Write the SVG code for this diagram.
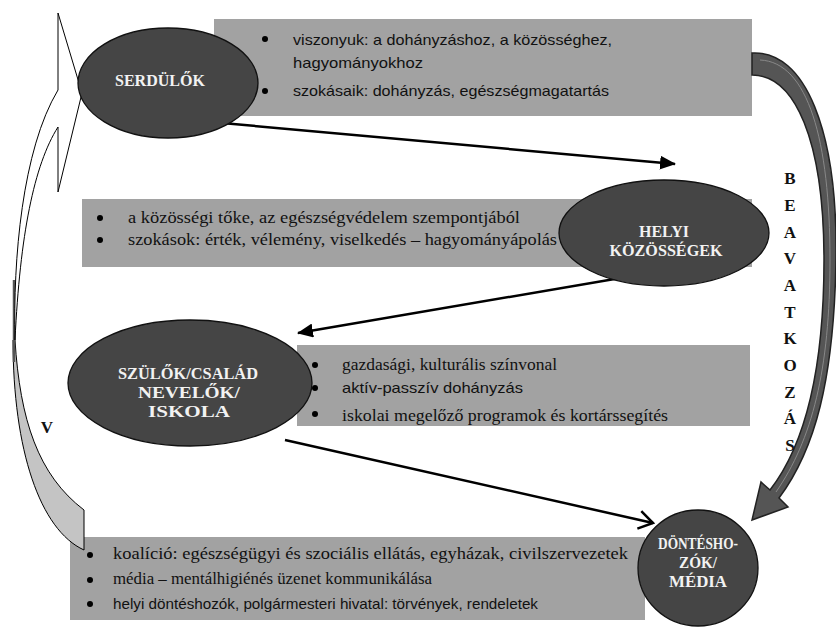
<svg xmlns="http://www.w3.org/2000/svg" width="836" height="629" viewBox="0 0 836 629">
<style>
.box{fill:#a2a2a2}
.node{fill:#454545;stroke:#111;stroke-width:1.3}
.lbl{font-family:'Liberation Serif','Times New Roman',serif;font-weight:bold;font-size:16px;fill:#f2f2f2;text-anchor:middle}
.sans{font-family:'Liberation Sans',Arial,sans-serif;font-size:15px;fill:#111}
.serif{font-family:'Liberation Serif','Times New Roman',serif;font-size:16px;fill:#111}
.vert{font-family:'Liberation Serif','Times New Roman',serif;font-weight:bold;font-size:17px;fill:#111;text-anchor:middle}
.conn{stroke:#000;stroke-width:2.5;fill:none}
</style>
<defs>
<marker id="tri" markerUnits="userSpaceOnUse" markerWidth="16" markerHeight="14" refX="15" refY="7" orient="auto">
<path d="M0,0 L16,7 L0,14 z" fill="#000"/>
</marker>
<marker id="open" markerUnits="userSpaceOnUse" markerWidth="18" markerHeight="20" refX="16" refY="10" orient="auto">
<path d="M2,1 L16,10 L2,19" fill="none" stroke="#000" stroke-width="2.5"/>
</marker>
<clipPath id="clip3"><rect x="297" y="345" width="453" height="81"/></clipPath>
</defs>

<!-- text boxes -->
<g id="box-serdulok">
<rect class="box" x="214" y="19" width="538" height="97"/>
<circle cx="265" cy="39" r="3" fill="#000"/>
<circle cx="265" cy="91" r="3" fill="#000"/>
<text class="sans" x="293" y="45" textLength="319" lengthAdjust="spacingAndGlyphs">viszonyuk: a dohányzáshoz, a közösséghez,</text>
<text class="sans" x="293" y="68" textLength="130" lengthAdjust="spacingAndGlyphs">hagyományokhoz</text>
<text class="sans" x="293" y="96" textLength="316" lengthAdjust="spacingAndGlyphs">szokásaik: dohányzás, egészségmagatartás</text>
</g>

<g id="box-helyi">
<rect class="box" x="82" y="199" width="670" height="68"/>
<circle cx="100" cy="218" r="3" fill="#000"/>
<circle cx="100" cy="240" r="3" fill="#000"/>
<text class="serif" x="128" y="223" textLength="392" lengthAdjust="spacingAndGlyphs">a közösségi tőke, az egészségvédelem szempontjából</text>
<text class="serif" x="128" y="245" textLength="429" lengthAdjust="spacingAndGlyphs">szokások: érték, vélemény, viselkedés – hagyományápolás</text>
</g>

<g id="box-szulok">
<rect class="box" x="297" y="345" width="453" height="81"/>
<g clip-path="url(#clip3)">
<circle cx="315" cy="365" r="3" fill="#000"/>
<circle cx="315" cy="388" r="3" fill="#000"/>
<circle cx="315" cy="414" r="3" fill="#000"/>
<text class="serif" x="342" y="370" textLength="215" lengthAdjust="spacingAndGlyphs">gazdasági, kulturális színvonal</text>
<text class="sans" x="342" y="393" textLength="181" lengthAdjust="spacingAndGlyphs">aktív-passzív dohányzás</text>
<text class="serif" x="342" y="421" textLength="326" lengthAdjust="spacingAndGlyphs">iskolai megelőző programok és kortárssegítés</text>
</g>
</g>

<g id="box-dontes">
<rect class="box" x="70" y="537" width="575" height="83"/>
<circle cx="90" cy="555" r="3" fill="#000"/>
<circle cx="90" cy="580" r="3" fill="#000"/>
<circle cx="90" cy="604" r="3" fill="#000"/>
<text class="serif" x="113" y="559" textLength="515" lengthAdjust="spacingAndGlyphs">koalíció: egészségügyi és szociális ellátás, egyházak, civilszervezetek</text>
<text class="serif" x="113" y="584" textLength="319" lengthAdjust="spacingAndGlyphs">média – mentálhigiénés üzenet kommunikálása</text>
<text class="sans" x="113" y="609" textLength="425" lengthAdjust="spacingAndGlyphs">helyi döntéshozók, polgármesteri hivatal: törvények, rendeletek</text>
</g>

<!-- left curved block arrow -->
<g id="arrow-v">
<path d="M15,340 C20,420 38,475 84,510 L84,550 C40,530 13,450 13,340 Z" fill="#c4c4c4" stroke="#000" stroke-width="1"/>
<path d="M14,280 L14,362" stroke="#555" stroke-width="2.5" fill="none"/>
<path d="M58,90 L58,13 L82,93 L58,192 L58,127 C34,165 20,235 15,340 C13,260 22,150 58,90 Z" fill="#fff" stroke="#000" stroke-width="1"/>
<text class="vert" x="47" y="433">V</text>
</g>

<!-- right curved block arrow -->
<g id="arrow-beavatkozas">
<path d="M752,53 C805,50 838,130 836,260 C834,380 815,450 779,498 L788,507 L752,520 L761,482 L770,490 C805,445 824,370 824,260 C824,140 795,75 752,75 Z" fill="#555" stroke="#222" stroke-width="1.5"/>
<path d="M760,60 C808,62 830,140 830,260 C830,370 812,440 776,492" fill="none" stroke="#888" stroke-width="1"/>
<g class="vert">
<text x="790" y="184">B</text>
<text x="790" y="211">E</text>
<text x="790" y="238">A</text>
<text x="790" y="264">V</text>
<text x="790" y="291">A</text>
<text x="790" y="318">T</text>
<text x="790" y="344">K</text>
<text x="790" y="371">O</text>
<text x="790" y="398">Z</text>
<text x="790" y="424">Á</text>
<text x="790" y="451">S</text>
</g>
</g>

<!-- connectors -->
<g id="connectors">
<line class="conn" x1="222" y1="123" x2="675" y2="164" marker-end="url(#tri)"/>
<line class="conn" x1="638" y1="275" x2="298" y2="333" marker-end="url(#tri)"/>
<line class="conn" x1="285" y1="440" x2="653" y2="523" marker-end="url(#open)"/>
</g>

<!-- nodes -->
<g id="node-serdulok">
<ellipse class="node" cx="168" cy="83" rx="90" ry="55"/>
<text class="lbl" x="160" y="86" textLength="90" lengthAdjust="spacingAndGlyphs">SERDÜLŐK</text>
</g>
<g id="node-helyi">
<ellipse class="node" cx="664" cy="233" rx="105" ry="53"/>
<text class="lbl" x="664" y="237" textLength="50" lengthAdjust="spacingAndGlyphs">HELYI</text>
<text class="lbl" x="666" y="256" textLength="113" lengthAdjust="spacingAndGlyphs">KÖZÖSSÉGEK</text>
</g>
<g id="node-szulok">
<ellipse class="node" cx="190" cy="383" rx="122" ry="63"/>
<text class="lbl" x="188" y="379" textLength="140" lengthAdjust="spacingAndGlyphs">SZÜLŐK/CSALÁD</text>
<text class="lbl" x="189" y="398" textLength="102" lengthAdjust="spacingAndGlyphs">NEVELŐK/</text>
<text class="lbl" x="189" y="417" textLength="82" lengthAdjust="spacingAndGlyphs">ISKOLA</text>
</g>
<g id="node-dontes">
<ellipse class="node" cx="698" cy="568" rx="60" ry="58"/>
<text class="lbl" x="698" y="549" textLength="80" lengthAdjust="spacingAndGlyphs">DÖNTÉSHO-</text>
<text class="lbl" x="698" y="568" textLength="38" lengthAdjust="spacingAndGlyphs">ZÓK/</text>
<text class="lbl" x="698" y="587" textLength="58" lengthAdjust="spacingAndGlyphs">MÉDIA</text>
</g>
</svg>
